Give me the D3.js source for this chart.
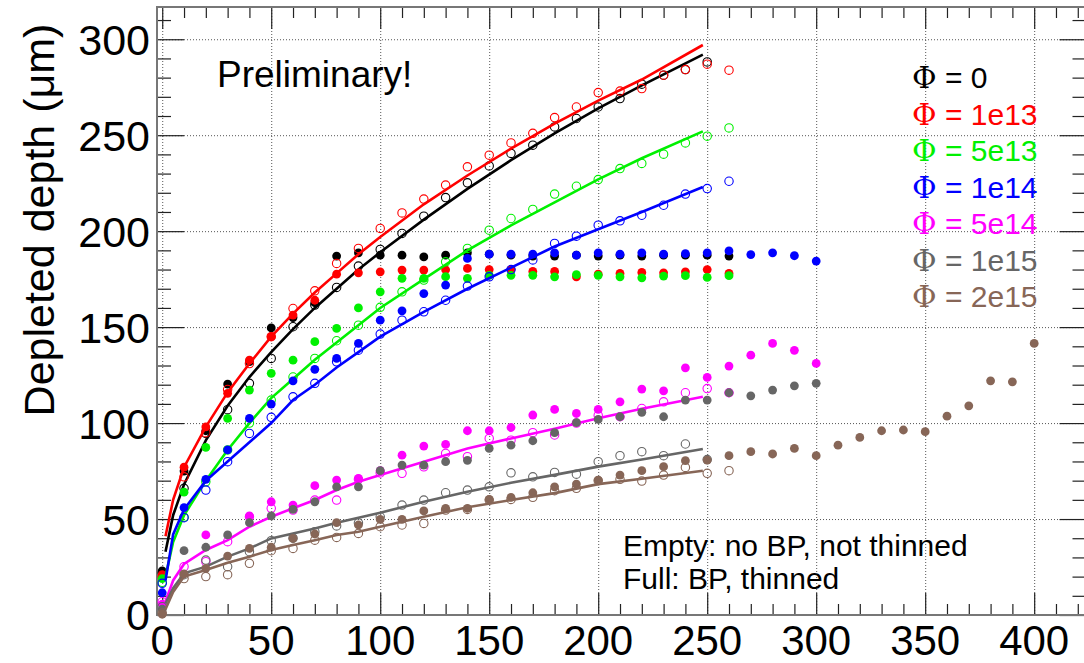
<!DOCTYPE html>
<html>
<head>
<meta charset="utf-8">
<script src="https://cdn.jsdelivr.net/npm/d3@7/dist/d3.min.js"></script>
<style>
  body { margin: 0; background: #fff; }
  svg { display: block; }
  text { font-family: "Liberation Sans", Arial, Helvetica, sans-serif; }
</style>
</head>
<body>
<div id="chart"></div>
<script>
// bias voltage (x) for the measured points
var bias = [0, 10, 20, 30, 40, 50, 60, 70, 80, 90, 100, 110, 120, 130, 140, 150, 160, 170, 180, 190,
            200, 210, 220, 230, 240, 250, 260, 270, 280, 290, 300, 310, 320, 330, 340, 350, 360, 370, 380, 390, 400];
// x of the points along the fitted curves
var fitBias = [1.5, 5, 10, 20, 30, 40, 50, 60, 70, 80, 90, 100, 120, 140, 160, 180, 200, 220, 248];

var fluences = ['0', '1e13', '5e13', '1e14', '5e14', '1e15', '2e15'];
var colors = ['#000000', '#ff0000', '#00f000', '#0000ff', '#ff00ff', '#666666', '#876657'];

// empty markers: no BP, not thinned
var open0    = [22, 66, 94.6, 107, 120.7, 133.7, 150.2, 161.5, 170.7, 181.8, 190.5, 198.8, 207.8, 217.5, 225.2, 234, 240.5, 244.8, 254.3, 258.7, 264.7, 269.1, 276.6, 281.3, 284.2, 288.2];
var open1e13 = [20, 72, 95, 117.5, 131, 145, 159.7, 168.9, 183.2, 191, 201.4, 209.5, 216.7, 224, 233.5, 239.6, 246, 251, 259.2, 264.7, 272.2, 273, 274.3, 281.3, 284.2, 287, 283.9];
var open5e13 = [17, 51, 69.4, 86, 100, 112, 124, 133.7, 142.9, 151, 160.3, 168.4, 174.5, 184, 191, 200.5, 206.6, 211.3, 219.3, 223.4, 226.9, 232.6, 235.3, 240.1, 246, 249.5, 253.8];
var open1e14 = [16.5, 50.7, 65.1, 79.9, 94.6, 103, 113.7, 120.7, 131.9, 138, 146.4, 153.6, 158, 164, 171.4, 176.2, 180, 185, 193.6, 197.4, 203.1, 205.4, 208.3, 213.5, 219.3, 222.2, 226];
var open5e14 = [6.9, 25.2, 27.8, 38.2, 51.2, 55.6, 54.7, 59.9, 59.9, 70.7, 74, 73.8, 77.2, 84.2, 82.5, 92, 91.1, 95, 93.8, 100, 104, 103.3, 107.6, 111.1, 115.8, 118, 115.8];
var open1e15 = [4.3, 21, 28.6, 25.2, 33, 38.7, 40, 43.4, 46.4, 48, 51.2, 57.3, 59.9, 63.7, 65.1, 66.8, 74.1, 72, 74.3, 73.4, 79.9, 83, 85.1, 83, 89.1, 81];
var open2e15 = [1, 19, 20, 21, 26.9, 33.5, 34.7, 39, 40.4, 42.5, 46, 46.9, 47.7, 54.7, 55, 59.9, 60.2, 61.3, 64.8, 66, 70, 70.7, 69.8, 72.9, 76.9, 73.8, 75.2];

// full markers: BP, thinned
var full0    = [23, 75, 96, 120.3, 132, 149.6, 155, 162.7, 187, 188.7, 187.5, 187.5, 186.6, 187.5, 188.7, 188, 187.5, 187, 187, 187.5, 187, 187.5, 187, 187.5, 187.5, 187.5, 187];
var full1e13 = [21, 77, 98, 115.5, 132.8, 145, 156.3, 164, 177.6, 178.3, 178.8, 179.7, 179.7, 179.9, 180.6, 180, 180, 179, 179, 176.2, 177.6, 178, 178.5, 178.3, 178.8, 180, 178];
var full5e13 = [19, 64, 87.3, 102.4, 117.2, 125.9, 132.8, 142.4, 149.3, 160, 168.4, 175.4, 175.4, 176.3, 175.4, 177, 177, 177, 176.2, 177.4, 177, 176.2, 175.7, 176.6, 176.8, 175.9, 176.8];
var full1e14 = [11.6, 56, 70.7, 86, 102.4, 109.9, 122, 128, 133.7, 141.5, 153.6, 158.5, 167.5, 171.9, 185.8, 188, 188, 188, 188.7, 187.5, 188.7, 188, 188.7, 188, 188.3, 188.7, 189.7, 187.8, 188.7, 187.2, 184.4];
var full5e14 = [5.6, null, 41.7, null, 51.7, 59, 57.3, 67.4, 70.3, 71.2, 75.2, 83.3, 88, 88.9, 96, 96, 97.7, 104.2, 107.1, 105, 107.1, 111.1, 117.7, 116.8, 128.8, 123.8, 129.7, 135.4, 141.5, 137.9, 131.1];
var full1e15 = [3, 33.5, 35.3, 41.7, 48.1, 51.7, 55, 59, 66.8, 66.8, 75.2, 78.1, 78.1, 79.9, 80.6, 86.8, 88.5, 90.8, 95, 100.2, 101.9, 103.3, 105.6, 103.3, 112, 112, 115.8, 114.2, 117.2, 119.4, 120.7];
var full2e15 = [0.4, 21.4, 24.3, 30.7, 34.7, 35.3, 39.9, 42.2, 48.1, 46.9, 49.8, 49.8, 54.2, 55.6, 55.6, 60.2, 61.3, 63.7, 66.8, 68.2, 70.3, 72.9, 75.2, 77.3, 80.4, 80.7, 83,
                85.1, 83.9, 86.8, 83, 88.5, 92.5, 96, 96.4, 95.5, 103.6, 109, 122, 121.5, 141.5];

// fitted curves (at fitBias)
var fit0    = [33, 52, 68, 91, 109, 124, 137, 149, 160, 170, 180, 189, 206, 222, 237, 251, 264, 276, 292];
var fit1e13 = [41, 60, 77, 98, 116, 131, 145, 157, 168, 178, 188, 197, 214, 229, 243, 256, 268, 279, 297];
var fit5e13 = [20, 38, 52, 70, 86, 100, 113, 123, 133, 142, 151, 160, 175, 190, 203, 215, 227, 238, 252];
var fit1e14 = [18, 42, 55, 70, 80, 90, 100, 112, 120, 129, 137, 145, 158, 170, 181, 192, 201, 210, 223];
var fit5e14 = [7, 18, 26.6, 33.9, 39, 46, 51.2, 55.6, 59.9, 65.1, 69.4, 72.9, 79.8, 86.8, 92, 97, 102.5, 107.5, 113.7];
var fit1e15 = [6, 14, 21.7, 25.2, 30.4, 34.7, 39.9, 42.5, 45.1, 48.1, 50.7, 53.3, 59, 64.2, 68.9, 73, 77.3, 81, 86.5];
var fit2e15 = [3, 12, 20, 23.4, 27.2, 30.4, 33.9, 36.5, 39, 41.7, 43.4, 46, 51.2, 56.1, 59.9, 63.5, 68.2, 71, 75.2];

var xTicks = [0, 50, 100, 150, 200, 250, 300, 350, 400];
var yTicks = [0, 50, 100, 150, 200, 250, 300];

var series = fluences.map(function(f, i) {
    return {
        label: f,
        color: colors[i],
        open: [open0, open1e13, open5e13, open1e14, open5e14, open1e15, open2e15][i],
        full: [full0, full1e13, full5e13, full1e14, full5e14, full1e15, full2e15][i],
        fit: [fit0, fit1e13, fit5e13, fit1e14, fit5e14, fit1e15, fit2e15][i]
    };
});

var W = 1084, H = 663;
var frame = { left: 157, right: 1086.5, top: 7, bottom: 615 };

var x = d3.scaleLinear().domain([-2.4, 424]).range([frame.left, frame.right]);
var y = d3.scaleLinear().domain([0, 316.8]).range([frame.bottom, frame.top]);

var svg = d3.select('#chart').append('svg').attr('width', W).attr('height', H);

// dotted grid at major ticks
var grid = svg.append('g').attr('stroke', '#555').attr('stroke-width', 1).attr('stroke-dasharray', '1,2');
grid.selectAll('.gx').data(xTicks).enter().append('line')
    .attr('x1', function(d) { return x(d) + 0.5; }).attr('x2', function(d) { return x(d) + 0.5; })
    .attr('y1', frame.top).attr('y2', frame.bottom);
grid.selectAll('.gy').data(yTicks.slice(1)).enter().append('line')
    .attr('y1', function(d) { return y(d) + 0.5; }).attr('y2', function(d) { return y(d) + 0.5; })
    .attr('x1', frame.left).attr('x2', frame.right);

// axes, ROOT style: ticks inside the frame, mirrored on the opposite sides
var xMinor = d3.range(0, 421, 10).filter(function(v) { return v % 50 !== 0; });
var yMinor = d3.range(0, 311, 10).filter(function(v) { return v % 50 !== 0; });

svg.append('g').attr('transform', 'translate(0,' + frame.bottom + ')')
    .call(d3.axisTop(x).tickValues(xMinor).tickSize(11).tickFormat(''));
svg.append('g').attr('transform', 'translate(0,' + frame.bottom + ')')
    .call(d3.axisTop(x).tickValues(xTicks).tickSize(22).tickFormat(''));
svg.append('g').attr('transform', 'translate(0,' + frame.top + ')')
    .call(d3.axisBottom(x).tickValues(xMinor).tickSize(11).tickFormat(''));
svg.append('g').attr('transform', 'translate(0,' + frame.top + ')')
    .call(d3.axisBottom(x).tickValues(xTicks).tickSize(22).tickFormat(''));
svg.append('g').attr('transform', 'translate(' + frame.left + ',0)')
    .call(d3.axisRight(y).tickValues(yMinor).tickSize(14).tickFormat(''));
svg.append('g').attr('transform', 'translate(' + frame.left + ',0)')
    .call(d3.axisRight(y).tickValues(yTicks).tickSize(27).tickFormat(''));
svg.append('g').attr('transform', 'translate(' + frame.right + ',0)')
    .call(d3.axisLeft(y).tickValues(yMinor).tickSize(14).tickFormat(''));
svg.append('g').attr('transform', 'translate(' + frame.right + ',0)')
    .call(d3.axisLeft(y).tickValues(yTicks).tickSize(27).tickFormat(''));

svg.selectAll('.domain').remove();
svg.selectAll('.tick line').attr('stroke', '#222').attr('stroke-width', 1.2);

svg.append('rect')
    .attr('x', frame.left).attr('y', frame.top)
    .attr('width', frame.right - frame.left).attr('height', frame.bottom - frame.top)
    .attr('fill', 'none').attr('stroke', '#777').attr('stroke-width', 2);

// tick labels
svg.append('g').selectAll('text').data(xTicks).enter().append('text')
    .attr('x', function(d) { return x(d); }).attr('y', 655)
    .attr('text-anchor', 'middle').attr('font-size', 42)
    .text(function(d) { return d; });
svg.append('g').selectAll('text').data(yTicks).enter().append('text')
    .attr('x', 150).attr('y', function(d) { return y(d); }).attr('dy', '0.36em')
    .attr('text-anchor', 'end').attr('font-size', 43)
    .text(function(d) { return d; });

svg.append('text')
    .attr('transform', 'translate(54,220) rotate(-90)')
    .attr('text-anchor', 'middle').attr('font-size', 43)
    .text('Depleted depth (\u03bcm)');

// data
var plot = svg.append('g');
var line = d3.line()
    .x(function(d) { return x(d[0]); })
    .y(function(d) { return y(d[1]); });

series.forEach(function(s) {
    var g = plot.append('g');
    var openPts = s.open.map(function(v, i) { return [bias[i], v]; }).filter(function(p) { return p[1] != null; });
    var fullPts = s.full.map(function(v, i) { return [bias[i], v]; }).filter(function(p) { return p[1] != null; });
    var fitPts = s.fit.map(function(v, i) { return [fitBias[i], v]; });

    g.selectAll('.open').data(openPts).enter().append('circle')
        .attr('cx', function(d) { return x(d[0]); })
        .attr('cy', function(d) { return y(d[1]); })
        .attr('r', 4.2)
        .attr('fill', 'none').attr('stroke', s.color).attr('stroke-width', 1.1);

    g.selectAll('.full').data(fullPts).enter().append('circle')
        .attr('cx', function(d) { return x(d[0]); })
        .attr('cy', function(d) { return y(d[1]); })
        .attr('r', 4.4)
        .attr('fill', s.color);

    g.append('path').datum(fitPts)
        .attr('d', line)
        .attr('fill', 'none').attr('stroke', s.color).attr('stroke-width', 2.6);
});

// legend
var legend = svg.append('g');
series.forEach(function(s, i) {
    var t = legend.append('text')
        .attr('x', 912).attr('y', 88 + i * 36.5)
        .attr('font-size', 30).attr('fill', s.color);
    t.append('tspan').attr('font-family', '"DejaVu Serif", "Liberation Serif", serif').text('\u03a6');
    t.append('tspan').text(' = ' + s.label);
});

svg.append('text').attr('x', 217).attr('y', 87).attr('font-size', 37).text('Preliminary!');
svg.append('text').attr('x', 623).attr('y', 556).attr('font-size', 30).text('Empty: no BP, not thinned');
svg.append('text').attr('x', 623).attr('y', 589).attr('font-size', 30).text('Full: BP, thinned');
</script>
</body>
</html>
